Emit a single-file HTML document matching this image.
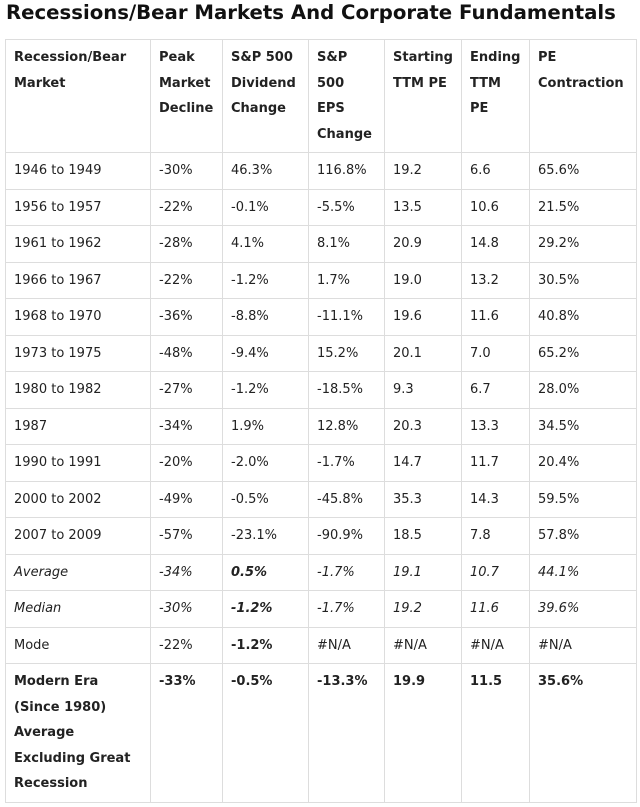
<!DOCTYPE html>
<html><head><meta charset="utf-8"><style>
body{margin:0;background:#fff;width:640px;height:807px;overflow:hidden;font-family:"DejaVu Sans",Verdana,sans-serif;color:#222}
h1{position:absolute;left:6px;top:0;margin:0;font-size:19.7px;line-height:26px;font-weight:bold;color:#111;white-space:nowrap}
table{position:absolute;left:5px;top:39px;border-collapse:collapse;table-layout:fixed;width:631px}
td{border:1px solid #ddd;padding:5px 0 0 8px;vertical-align:top;font-size:13px;line-height:25.5px;box-sizing:border-box;white-space:nowrap;overflow:hidden}
tr{height:36.5px}
tr.h{height:113px}
tr.h td{font-weight:bold}
tr.last{height:139px}
tr.last td{font-weight:bold}
.i td{font-style:italic}
b{font-weight:bold}
</style></head><body>
<h1>Recessions/Bear Markets And Corporate Fundamentals</h1>
<table>
<colgroup><col style="width:145px"><col style="width:72px"><col style="width:86px"><col style="width:76px"><col style="width:77px"><col style="width:68px"><col style="width:107px"></colgroup>
<tr class="h"><td>Recession/Bear<br>Market</td><td>Peak<br>Market<br>Decline</td><td>S&amp;P 500<br>Dividend<br>Change</td><td>S&amp;P<br>500<br>EPS<br>Change</td><td>Starting<br>TTM PE</td><td>Ending<br>TTM<br>PE</td><td>PE<br>Contraction</td></tr>
<tr><td>1946 to 1949</td><td>-30%</td><td>46.3%</td><td>116.8%</td><td>19.2</td><td>6.6</td><td>65.6%</td></tr>
<tr><td>1956 to 1957</td><td>-22%</td><td>-0.1%</td><td>-5.5%</td><td>13.5</td><td>10.6</td><td>21.5%</td></tr>
<tr><td>1961 to 1962</td><td>-28%</td><td>4.1%</td><td>8.1%</td><td>20.9</td><td>14.8</td><td>29.2%</td></tr>
<tr><td>1966 to 1967</td><td>-22%</td><td>-1.2%</td><td>1.7%</td><td>19.0</td><td>13.2</td><td>30.5%</td></tr>
<tr><td>1968 to 1970</td><td>-36%</td><td>-8.8%</td><td>-11.1%</td><td>19.6</td><td>11.6</td><td>40.8%</td></tr>
<tr><td>1973 to 1975</td><td>-48%</td><td>-9.4%</td><td>15.2%</td><td>20.1</td><td>7.0</td><td>65.2%</td></tr>
<tr><td>1980 to 1982</td><td>-27%</td><td>-1.2%</td><td>-18.5%</td><td>9.3</td><td>6.7</td><td>28.0%</td></tr>
<tr><td>1987</td><td>-34%</td><td>1.9%</td><td>12.8%</td><td>20.3</td><td>13.3</td><td>34.5%</td></tr>
<tr><td>1990 to 1991</td><td>-20%</td><td>-2.0%</td><td>-1.7%</td><td>14.7</td><td>11.7</td><td>20.4%</td></tr>
<tr><td>2000 to 2002</td><td>-49%</td><td>-0.5%</td><td>-45.8%</td><td>35.3</td><td>14.3</td><td>59.5%</td></tr>
<tr><td>2007 to 2009</td><td>-57%</td><td>-23.1%</td><td>-90.9%</td><td>18.5</td><td>7.8</td><td>57.8%</td></tr>
<tr class="i"><td>Average</td><td>-34%</td><td><b>0.5%</b></td><td>-1.7%</td><td>19.1</td><td>10.7</td><td>44.1%</td></tr>
<tr class="i"><td>Median</td><td>-30%</td><td><b>-1.2%</b></td><td>-1.7%</td><td>19.2</td><td>11.6</td><td>39.6%</td></tr>
<tr><td>Mode</td><td>-22%</td><td><b>-1.2%</b></td><td>#N/A</td><td>#N/A</td><td>#N/A</td><td>#N/A</td></tr>
<tr class="last"><td>Modern Era<br>(Since 1980)<br>Average<br>Excluding Great<br>Recession</td><td>-33%</td><td>-0.5%</td><td>-13.3%</td><td>19.9</td><td>11.5</td><td>35.6%</td></tr>
</table>
</body></html>
